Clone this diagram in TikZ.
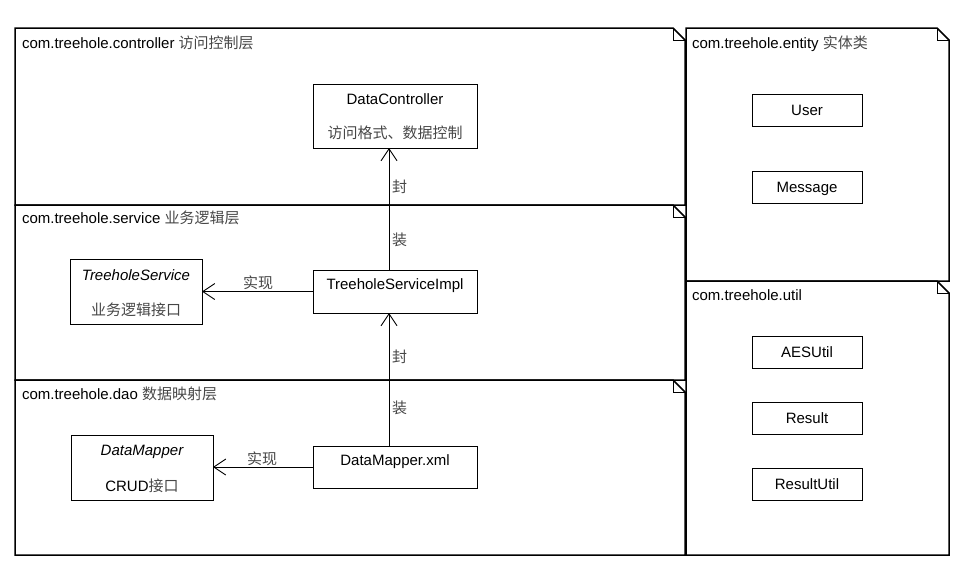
\documentclass[tikz,border=0pt]{standalone}
\usepackage{fontspec}
\setmainfont{Liberation Sans}
\newfontfamily\cjk{Noto Sans CJK SC}
\usetikzlibrary{arrows.meta}
\definecolor{zhgray}{gray}{0.28}
\newcommand\zh[1]{{\cjk\color{zhgray}#1}}

% package frame with a folded top-right corner
\newcommand\pkgframe[4]{%
  \draw[pkgline] (#1,#2) -- (#3-12,#2) -- (#3,#2+12) -- (#3,#4) -- (#1,#4) -- cycle;
  \draw[foldline] (#3-12,#2) -- (#3-12,#2+12) -- (#3,#2+12);
}

\begin{document}
\begin{tikzpicture}[x=1pt,y=-1pt,
  every node/.style={font=\fontsize{15}{17}\selectfont, inner sep=0pt, outer sep=0pt},
  pkgline/.style={line width=1.5pt, line join=miter},
  foldline/.style={line width=0.9pt},
  classbox/.style={draw, line width=0.9pt, minimum width=#1, anchor=north west},
  pkglabel/.style={anchor=base west},
  txt/.style={anchor=base},
  edgelabel/.style={anchor=base west},
  arr/.style={line width=0.9pt, -{Straight Barb[length=12pt,width=16pt,line width=0.9pt]}}
]
\useasboundingbox (0,0) rectangle (964,573);

% packages
\pkgframe{15}{28}{685}{205}
\pkgframe{15}{205}{685}{380}
\pkgframe{15}{380}{685}{555}
\pkgframe{686}{28}{949}{281}
\pkgframe{686}{281}{949}{555}

\node[pkglabel] (lctrl) at (22,48) {com.treehole.controller \zh{访问控制层}};
\node[pkglabel] (lsvc)  at (22,223) {com.treehole.service \zh{业务逻辑层}};
\node[pkglabel] (ldao)  at (22,399) {com.treehole.dao \zh{数据映射层}};
\node[pkglabel] (lent)  at (692,48) {com.treehole.entity \zh{实体类}};
\node[pkglabel] (lutil) at (692,300) {com.treehole.util};

% controller layer
\node[classbox=164pt, minimum height=64pt] (ctrl) at (313,84) {};
\node[txt] (ctrlname) at (395,104) {DataController};
\node[txt] (ctrldesc) at (395,138) {\zh{访问格式、数据控制}};

% service layer
\node[classbox=164pt, minimum height=43pt] (impl) at (313,270) {};
\node[txt] (implname) at (395,289) {TreeholeServiceImpl};
\node[classbox=132pt, minimum height=65pt] (svc) at (70,259) {};
\node[txt] (svcname) at (136,280) {\itshape TreeholeService};
\node[txt] (svcdesc) at (136,315) {\zh{业务逻辑接口}};

% dao layer
\node[classbox=164pt, minimum height=42pt] (xml) at (313,446) {};
\node[txt] (xmlname) at (395,465) {DataMapper.xml};
\node[classbox=142pt, minimum height=65pt] (mapper) at (71,435) {};
\node[txt] (mappername) at (142,455) {\itshape DataMapper};
\node[txt] (mapperdesc) at (142,491) {CRUD\zh{接口}};

% entity classes
\node[classbox=110pt, minimum height=32pt] (user) at (752,94) {};
\node[txt] (username) at (807,115) {User};
\node[classbox=110pt, minimum height=32pt] (msg) at (752,171) {};
\node[txt] (msgname) at (807,192) {Message};

% util classes
\node[classbox=110pt, minimum height=32pt] (aes) at (752,336) {};
\node[txt] (aesname) at (807,357) {AESUtil};
\node[classbox=110pt, minimum height=32pt] (res) at (752,402) {};
\node[txt] (resname) at (807,423) {Result};
\node[classbox=110pt, minimum height=32pt] (resu) at (752,468) {};
\node[txt] (resuname) at (807,489) {ResultUtil};

% connectors
\coordinate (ax) at (389,0);
\draw[arr] (impl.north -| ax) -- (ctrl.south -| ax);
\draw[arr] (xml.north -| ax) -- (impl.south -| ax);
\draw[arr] (impl.west) -- (svc.east |- impl.west);
\draw[arr] (xml.west) -- (mapper.east |- xml.west);

\node[edgelabel] (f1) at (392,192) {\zh{封}};
\node[edgelabel] (z1) at (392,245) {\zh{装}};
\node[edgelabel] (f2) at (392,362) {\zh{封}};
\node[edgelabel] (z2) at (392,413) {\zh{装}};
\node[edgelabel] (r1) at (243,288) {\zh{实现}};
\node[edgelabel] (r2) at (247,464) {\zh{实现}};
\end{tikzpicture}
\end{document}
